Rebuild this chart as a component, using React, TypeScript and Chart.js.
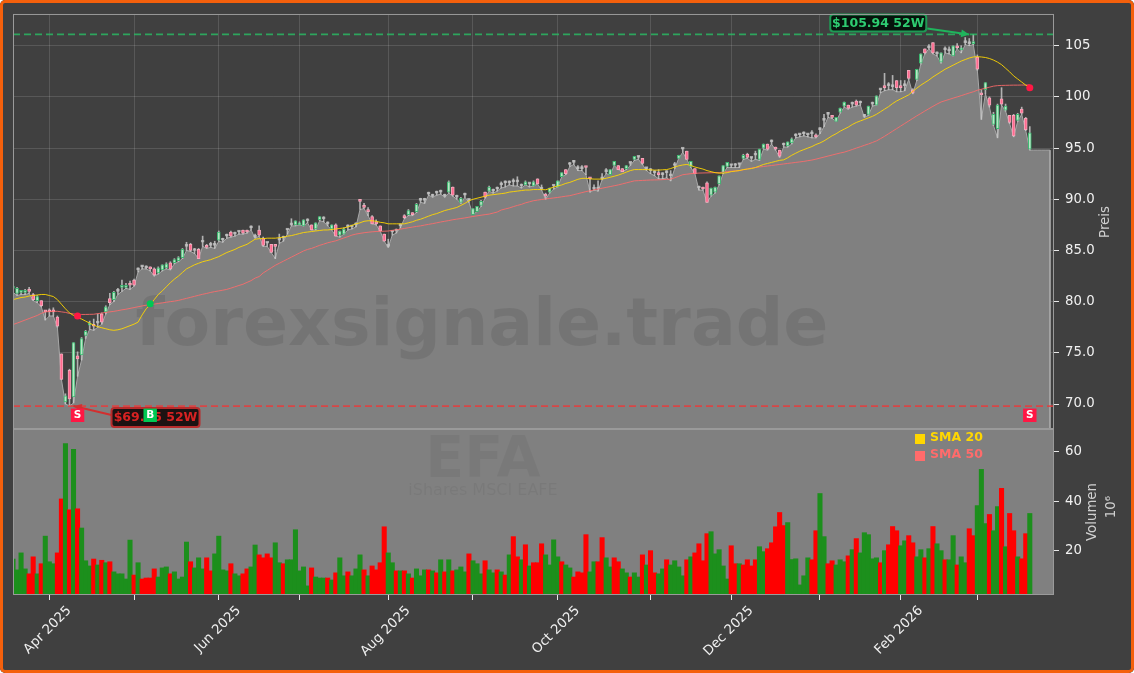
import React, { useEffect, useRef } from "react";
import { Chart, registerables } from "chart.js";

Chart.register(...registerables);

const opens = [
81.3,80.8,80.9,80.9,81.1,80.7,80.1,80.1,79.1,79.1,
79.1,78.5,74.9,70.2,73.3,70.7,74.7,74.8,76.7,77.7,
77.7,77.9,78.8,79.0,80.3,80.2,81.0,81.4,81.4,81.7,
82.1,83.1,83.4,83.3,83.3,83.2,82.8,83.1,83.3,83.8,
83.8,84.0,84.3,85.4,85.6,85.0,85.1,85.8,85.4,85.5,
85.5,86.0,86.0,86.4,86.8,86.6,86.8,87.0,86.9,87.2,
86.3,87.0,86.2,85.7,85.6,85.5,86.0,86.2,87.0,87.5,
87.5,87.5,87.4,87.9,87.5,87.1,88.0,88.1,87.6,87.1,
87.5,86.5,86.6,87.3,87.3,87.5,89.9,89.4,88.9,88.3,
87.8,87.4,86.6,85.4,86.8,86.9,87.4,88.4,88.5,88.6,
88.8,89.9,89.9,90.5,90.3,90.6,90.7,90.3,90.7,91.2,
90.2,89.7,90.4,89.9,88.5,88.8,89.4,90.7,90.8,90.8,
91.0,91.4,91.6,91.6,91.7,91.7,91.3,91.4,91.5,91.3,
92.0,91.0,90.4,90.7,91.3,91.2,92.2,92.9,93.4,93.6,
93.0,93.0,93.2,92.1,91.0,91.0,92.0,92.7,92.4,93.3,
93.3,93.0,93.0,93.5,93.9,94.1,94.0,93.0,92.8,92.6,
92.5,92.4,92.6,92.3,93.3,94.0,94.9,94.7,93.2,93.0,
91.1,91.1,91.6,90.4,90.7,91.5,92.6,93.2,93.3,93.3,
93.4,94.0,94.4,94.0,94.3,93.9,95.0,95.4,95.6,95.1,
94.8,95.3,95.2,95.5,96.2,96.3,96.4,96.3,96.4,96.3,
96.8,97.7,98.3,98.2,97.6,98.5,99.1,99.2,99.3,99.6,
99.4,98.1,98.3,99.3,99.2,100.7,101.0,101.1,101.0,101.6,
101.0,101.1,102.6,100.7,101.7,103.3,104.7,104.8,105.3,104.2,
103.4,104.6,104.5,104.0,105.0,104.6,105.3,105.2,105.2,103.9,
100.3,100.7,99.9,97.3,96.9,99.8,98.7,98.2,98.2,97.7,
98.8,97.9,94.9];

const closes = [
81.4,81.3,81.0,81.0,81.0,80.2,80.5,79.6,79.0,79.0,
79.0,77.6,72.4,70.8,70.5,76.0,74.4,76.4,77.1,77.8,
77.6,77.9,78.0,79.5,79.9,80.9,81.0,81.5,81.5,81.6,
81.6,83.1,83.4,83.3,83.2,82.6,83.3,83.6,83.7,83.2,
84.1,84.3,85.1,85.4,85.0,85.0,84.2,85.8,85.3,85.5,
85.5,86.8,86.0,86.4,86.4,86.6,86.8,86.7,86.8,87.2,
86.3,86.5,85.5,85.7,84.8,85.4,86.0,86.2,87.0,87.5,
87.9,87.7,88.0,87.9,87.0,87.7,88.3,88.1,87.6,87.5,
86.4,86.9,87.1,87.3,87.3,87.5,89.8,89.2,88.8,87.6,
87.6,86.9,85.9,85.4,86.8,86.9,87.4,88.2,88.9,88.5,
89.5,89.9,89.9,90.5,90.3,90.6,90.7,90.3,91.7,90.4,
90.2,90.1,90.4,89.9,89.1,89.3,89.8,90.2,91.2,90.8,
91.0,91.4,91.6,91.6,91.7,91.7,91.3,91.7,91.5,91.7,
91.5,91.0,90.3,91.1,91.3,91.8,92.6,92.5,93.4,93.6,
93.0,93.0,93.1,92.0,91.0,91.0,92.0,92.7,92.9,93.7,
92.9,92.7,93.3,93.5,94.2,94.1,93.5,93.0,92.8,92.6,
92.4,92.4,92.6,92.3,93.3,94.3,94.9,93.9,93.7,92.5,
91.1,91.0,89.7,91.1,91.2,92.3,93.3,93.6,93.3,93.3,
93.4,94.3,94.1,94.0,94.3,94.9,95.4,94.9,95.6,94.9,
94.2,95.3,95.6,95.9,96.2,96.3,96.4,96.3,96.4,96.1,
96.8,97.7,98.3,98.0,98.0,98.9,99.5,98.9,99.3,99.2,
99.4,98.1,99.1,99.3,100.1,100.7,100.9,101.1,101.0,100.9,
100.9,101.1,101.8,100.4,102.7,104.2,104.3,104.8,104.3,104.2,
104.3,104.6,104.5,105.0,104.8,104.7,105.3,105.2,105.3,102.7,
100.2,101.4,99.2,98.3,99.2,99.3,99.1,97.5,96.2,98.3,
98.4,96.8,96.5];

const highs = [
82.1,81.4,81.0,81.2,81.4,80.8,80.6,80.1,79.1,79.3,
79.4,78.6,74.9,71.0,73.4,76.0,75.1,76.5,77.2,78.1,
78.3,78.8,78.9,79.6,80.8,81.0,81.3,82.1,81.8,82.0,
82.2,83.3,83.5,83.5,83.4,83.3,83.4,83.6,83.8,83.9,
84.2,84.4,85.2,85.8,85.7,85.2,85.2,86.4,85.6,85.8,
85.9,86.9,86.2,86.6,86.9,86.8,86.9,87.0,87.0,87.4,
86.6,87.4,86.3,85.8,85.6,85.6,86.6,86.4,87.1,88.1,
87.9,87.8,88.0,88.1,87.5,87.7,88.3,88.3,87.8,87.5,
87.6,86.9,87.2,87.5,87.4,87.7,90.0,89.6,89.2,88.4,
88.0,87.4,86.6,86.1,86.9,87.1,87.6,88.5,89.0,88.7,
89.6,90.1,90.1,90.7,90.5,90.8,90.9,90.5,91.8,91.2,
90.4,90.2,90.6,90.0,89.1,89.3,89.9,90.7,91.3,91.0,
91.2,91.7,91.8,91.8,92.0,92.2,91.5,91.8,91.6,91.8,
92.0,91.4,90.6,91.1,91.4,91.8,92.6,92.9,93.6,93.8,
93.3,93.3,93.2,92.1,91.4,91.8,92.5,93.0,92.9,93.7,
93.3,93.0,93.3,93.6,94.2,94.2,94.0,93.1,93.0,92.8,
92.9,92.6,92.8,92.8,93.6,94.3,95.0,94.7,93.7,93.0,
91.3,91.2,91.7,91.1,91.2,92.3,93.3,93.6,93.4,93.5,
93.5,94.4,94.5,94.1,94.7,94.9,95.4,95.4,95.8,95.1,
94.8,95.5,95.6,96.0,96.4,96.4,96.6,96.4,96.7,96.4,
97.0,98.3,98.5,98.2,98.0,98.9,99.5,99.2,99.5,99.7,
99.6,98.3,99.1,99.5,100.1,100.8,102.3,101.4,102.1,101.6,
101.6,101.6,102.6,100.8,102.7,104.2,104.7,105.1,105.3,104.4,
104.3,104.9,104.9,105.0,105.2,105.0,105.8,105.7,106.1,104.1,
100.7,101.4,100.0,98.5,99.3,100.9,99.3,98.2,98.3,98.4,
99.0,98.0,97.1];

const lows = [
80.9,80.6,80.7,80.7,80.8,80.1,79.9,79.5,78.2,78.6,
78.6,77.5,72.4,70.0,69.8,70.1,72.7,74.3,76.4,77.3,
77.2,77.5,77.8,78.8,79.7,80.0,80.7,81.0,81.3,81.2,
81.5,82.9,83.2,83.2,83.0,82.5,82.7,83.0,83.2,83.1,
83.7,83.9,84.2,85.0,84.9,84.7,84.2,85.4,85.2,85.3,
85.2,85.9,85.8,86.2,86.3,86.4,86.6,86.6,86.7,87.0,
86.2,86.4,85.4,85.4,84.8,84.2,85.7,85.9,86.6,87.4,
87.4,87.5,87.4,87.7,87.0,87.0,87.9,87.8,87.4,87.0,
86.4,86.3,86.6,87.0,87.1,87.3,89.0,89.1,88.4,87.6,
87.5,86.9,85.9,85.3,86.5,86.7,87.2,88.1,88.4,88.4,
88.7,89.7,89.6,90.4,90.2,90.4,90.5,90.2,90.6,90.3,
90.0,89.6,90.2,89.7,88.5,88.8,89.3,90.1,90.8,90.6,
90.8,91.1,91.2,91.4,91.3,91.3,91.1,91.4,91.2,91.3,
91.5,90.9,90.0,90.6,91.0,91.2,92.2,92.4,93.2,93.4,
92.8,92.8,92.4,90.7,90.9,90.8,91.9,92.5,92.4,93.3,
92.9,92.7,92.9,93.3,93.8,93.9,93.4,92.8,92.5,92.3,
92.0,92.0,92.1,91.8,93.0,94.0,94.6,93.9,93.1,92.5,
90.9,90.9,89.7,90.3,90.6,91.4,92.5,93.1,93.1,93.1,
93.1,93.9,94.0,93.7,93.9,93.8,94.9,94.8,95.4,94.8,
94.1,95.1,95.1,95.4,96.0,96.1,96.2,96.1,96.0,96.0,
96.4,97.1,98.0,97.9,97.6,98.4,99.0,98.8,99.0,99.1,
99.2,98.0,98.2,99.1,99.2,100.4,100.6,100.7,100.7,100.5,
100.5,100.6,101.7,100.3,101.6,103.2,104.2,104.7,104.2,104.0,
103.3,104.3,104.2,104.0,104.7,104.3,105.1,105.0,105.1,102.6,
97.8,100.3,99.0,97.2,96.0,99.2,98.6,97.4,96.1,97.6,
98.3,96.7,94.8];

const flatTail = [94.8, 94.8, 94.8, 94.8, 94.8];

const sma20 = [
80.2,80.3,80.4,80.45,80.55,80.6,80.65,80.7,80.7,80.6,
80.5,80.2,79.75,79.3,78.9,78.65,78.45,78.3,78.1,77.9,
77.7,77.55,77.45,77.35,77.25,77.2,77.25,77.35,77.5,77.65,
77.8,78.0,78.7,79.3,79.7,80.2,80.7,81.05,81.45,81.85,
82.2,82.5,82.85,83.2,83.4,83.6,83.75,83.9,84.0,84.1,
84.25,84.4,84.6,84.8,84.95,85.1,85.3,85.45,85.6,85.85,
86.1,86.15,86.15,86.2,86.2,86.2,86.25,86.3,86.4,86.45,
86.55,86.65,86.75,86.8,86.85,86.9,86.95,87.0,87.0,87.05,
87.1,87.15,87.2,87.3,87.45,87.6,87.7,87.85,87.9,87.9,
87.85,87.75,87.7,87.6,87.6,87.6,87.6,87.6,87.7,87.8,
87.95,88.05,88.2,88.35,88.5,88.6,88.75,88.9,89.0,89.1,
89.2,89.4,89.6,89.85,90.0,90.1,90.2,90.3,90.4,90.45,
90.5,90.55,90.6,90.7,90.75,90.8,90.85,90.9,90.9,90.95,
90.95,90.95,90.93,91.05,91.2,91.3,91.4,91.55,91.65,91.8,
91.95,92.04,92.05,92.0,91.97,91.97,91.97,92.05,92.15,92.25,
92.36,92.5,92.65,92.8,92.9,92.9,92.9,92.9,92.88,92.85,
92.85,92.88,92.9,93.0,93.15,93.27,93.35,93.4,93.3,93.15,
93.05,92.95,92.8,92.7,92.6,92.55,92.55,92.6,92.7,92.75,
92.8,92.9,92.95,93.0,93.1,93.25,93.4,93.5,93.6,93.7,
93.8,93.85,94.05,94.3,94.5,94.7,94.85,95.0,95.15,95.35,
95.5,95.7,95.95,96.2,96.4,96.65,96.85,97.05,97.3,97.5,
97.65,97.8,97.95,98.1,98.3,98.55,98.8,99.05,99.35,99.6,
99.8,100.0,100.2,100.55,100.85,101.15,101.4,101.65,101.95,102.2,
102.45,102.7,102.9,103.1,103.3,103.5,103.65,103.8,103.9,103.93,
103.9,103.85,103.75,103.6,103.4,103.15,102.8,102.45,102.05,101.75,
101.45,101.15,100.95];

const sma50 = [
77.76,77.9,78.05,78.2,78.35,78.5,78.65,78.85,79.0,79.03,
79.05,79.06,79.0,78.95,78.85,78.8,78.75,78.75,78.75,78.76,
78.77,78.83,78.88,78.95,79.0,79.05,79.12,79.2,79.26,79.34,
79.42,79.5,79.58,79.65,79.7,79.76,79.82,79.88,79.94,80.0,
80.05,80.12,80.22,80.32,80.42,80.52,80.62,80.72,80.8,80.9,
80.98,81.05,81.12,81.2,81.32,81.45,81.58,81.7,81.88,82.05,
82.3,82.45,82.8,83.05,83.3,83.55,83.75,83.95,84.15,84.35,
84.55,84.75,84.95,85.1,85.2,85.35,85.5,85.62,85.75,85.85,
85.94,86.08,86.22,86.35,86.5,86.6,86.67,86.73,86.78,86.82,
86.85,86.87,86.88,86.9,86.96,87.02,87.08,87.15,87.22,87.28,
87.35,87.4,87.48,87.55,87.62,87.7,87.78,87.85,87.92,88.0,
88.06,88.12,88.18,88.25,88.32,88.38,88.44,88.5,88.55,88.65,
88.75,88.95,89.05,89.15,89.28,89.4,89.5,89.65,89.75,89.86,
89.92,89.98,90.03,90.08,90.13,90.18,90.24,90.3,90.35,90.45,
90.55,90.65,90.75,90.83,90.92,91.0,91.08,91.16,91.24,91.32,
91.4,91.5,91.6,91.7,91.8,91.82,91.84,91.86,91.88,91.89,
91.9,91.92,91.95,91.97,92.1,92.25,92.4,92.45,92.5,92.53,
92.56,92.57,92.58,92.59,92.6,92.6,92.65,92.7,92.74,92.77,
92.8,92.88,92.96,93.05,93.1,93.15,93.2,93.25,93.3,93.35,
93.4,93.45,93.5,93.55,93.6,93.65,93.7,93.77,93.83,93.92,
94.02,94.12,94.22,94.32,94.42,94.52,94.6,94.73,94.86,95.0,
95.13,95.27,95.4,95.55,95.7,95.92,96.15,96.4,96.65,96.9,
97.15,97.4,97.65,97.9,98.15,98.38,98.62,98.85,99.08,99.3,
99.5,99.63,99.75,99.88,100.0,100.12,100.25,100.38,100.5,100.65,
100.75,100.85,100.95,101.05,101.1,101.12,101.13,101.14,101.15,101.15,
101.16,101.16,101.16];

const volumes = [
16.5,12.1,19,12.5,10.5,17.4,10.5,14.6,25.8,15.4,
14.6,19,40.9,63.4,36.5,61,36.9,29.1,15.8,13.7,
16.5,14.1,16,15,15.4,11.3,10.5,10.5,8.4,24.2,
10,15,8.4,8.8,8.8,12.5,9.2,12.9,13.3,10.5,
11.3,8.4,9.2,23.4,15.4,12.9,17,12.5,17,11.7,
18.6,25.8,12.1,11.7,14.6,10.5,9.7,10.5,12.5,13.3,
22.2,18.2,17,18.6,17,23.1,15,14.6,16.2,16.2,
28.4,11.7,13.3,5.6,12.9,9.2,8.8,8.8,8.8,8,
10.9,17,9.7,11.3,9.7,12.5,18.2,12.1,9.7,13.7,
12.1,15,29.6,19,15,11.7,11.7,11.7,10.5,8.8,
12.5,9.7,12.1,12.1,11.7,10.9,16.2,11.3,16.2,11.7,
12.1,13.3,11.3,18.6,15.8,14.6,10.5,15.8,12.1,10.9,
12.1,11.3,10,18.2,25.6,17.4,16.2,22.3,13.7,15,
15,22.7,18.2,14.1,24.3,17.4,15.4,14.1,12.9,9.2,
11.3,10.9,26.4,11.3,15.4,15.4,25.2,17,13.3,17,
15.4,12.5,10.9,9.2,10.9,9.2,18.2,14.1,19.9,10.9,
10.5,12.5,16.2,14.1,15.8,13.3,9.7,16.2,17.4,19,
22.7,15.8,26.8,27.6,18.6,20.3,13.7,8.4,21.9,14.6,
14.6,14.1,16.2,13.7,16.2,21.5,19.5,20.7,23.1,29.6,
35.4,30.1,31.3,16.3,16.6,6,9.7,17,16.2,28,
43.1,25.6,14.6,15.8,14.1,16.2,15.4,17.8,20.3,24.8,
19,27.2,26.4,16.6,17,15,19.9,22.3,29.7,28,
21.9,23.9,26,23.1,17.4,20.3,17,20.7,29.7,22.7,
19.9,16.2,16.2,26,14.1,17.4,15,28.8,26,38.2,
52.9,30.9,34.6,28,37.8,45.2,21.5,35,28,17.4,
16.6,26.8,35];

const volumeSides =
  "ggggrrgrgg" + "grrgrgrggg" + "rgrgrggggg" + "rgrrrrgggr" + "ggggrgggrr" +
  "ggggrggrrg" + "grrrrggrgg" + "ggggrgggrg" + "rggrgggrgr" + "rrrggrgrgr" +
  "gggrgrgrgr" + "gggrgggrgg" + "rgrgrrgrgr" + "rrggggrggr" + "rrrggrrggr" +
  "rggrggrgrr" + "ggrggggrgr" + "rrrgggggrr" + "grrrrggrrr" + "rrggggggrr" +
  "ggrrgggrgr" + "gggggrgrrr" + "ggrrggrgrg" + "grggrggrrg" + "ggrggrgrrg" +
  "rrg";

const tickIndexes = [9, 30, 51, 71, 93, 114, 135, 158, 178, 200, 220, 239];
const tickTexts = ["Apr 2025", "", "Jun 2025", "", "Aug 2025", "", "Oct 2025", "", "Dec 2025", "", "Feb 2026", ""];
const priceTicks = [70, 75, 80, 85, 90, 95, 100, 105];
const volumeTicks = [20, 40, 60];
const slotCount = 259;
const slots = Array.from({ length: slotCount }, (_, i) => String(i));

const yearHigh = 106.1;
const yearLow = 69.8;
const edgeSlot = "257";
const sellDots = [{ x: "16", y: 78.6 }, { x: "252", y: 100.9 }];
const buyDots = [{ x: "34", y: 79.8 }];
const sellFlags = [{ x: "16", y: 68.9 }, { x: "252", y: 68.9 }];
const buyFlags = [{ x: "34", y: 68.9 }];

const FONT = '"DejaVu Sans"';
const PRICE_MIN = 67.56;
const PRICE_MAX = 108.1;
const VOL_MIN = 1.9;
const VOL_MAX = 69.3;

function arrow(ctx: CanvasRenderingContext2D, x1: number, y1: number, x2: number, y2: number, color: string) {
  ctx.save();
  ctx.strokeStyle = color;
  ctx.fillStyle = color;
  ctx.lineWidth = 2;
  ctx.beginPath();
  ctx.moveTo(x1, y1);
  ctx.lineTo(x2, y2);
  ctx.stroke();
  const a = Math.atan2(y2 - y1, x2 - x1);
  ctx.beginPath();
  ctx.moveTo(x2, y2);
  ctx.lineTo(x2 - 9 * Math.cos(a - 0.45), y2 - 9 * Math.sin(a - 0.45));
  ctx.lineTo(x2 - 9 * Math.cos(a + 0.45), y2 - 9 * Math.sin(a + 0.45));
  ctx.closePath();
  ctx.fill();
  ctx.restore();
}

function labelBox(ctx: CanvasRenderingContext2D, x: number, y: number, w: number, h: number, text: string, fill: string, stroke: string, color: string) {
  ctx.save();
  ctx.fillStyle = fill;
  ctx.strokeStyle = stroke;
  ctx.lineWidth = 2;
  ctx.beginPath();
  ctx.roundRect(x, y, w, h, 3);
  ctx.fill();
  ctx.stroke();
  ctx.fillStyle = color;
  ctx.font = `bold 12.5px ${FONT}`;
  ctx.textAlign = "center";
  ctx.textBaseline = "middle";
  ctx.fillText(text, x + w / 2, y + h / 2 + 0.5);
  ctx.restore();
}

function vText(ctx: CanvasRenderingContext2D, text: string, x: number, y: number, color: string, size: number) {
  ctx.save();
  ctx.translate(x, y);
  ctx.rotate(-Math.PI / 2);
  ctx.fillStyle = color;
  ctx.font = `${size}px ${FONT}`;
  ctx.textAlign = "center";
  ctx.textBaseline = "middle";
  ctx.fillText(text, 0, 0);
  ctx.restore();
}

const chartDressing = {
  id: "chartDressing",
  beforeDraw(chart: any) {
    const { ctx, width, height } = chart;
    ctx.save();
    ctx.fillStyle = "#404040";
    ctx.fillRect(0, 0, width, height);
    ctx.restore();
  },
  beforeDatasetsDraw(chart: any) {
    const { ctx, chartArea } = chart;
    const v = chart.scales.volume;
    ctx.save();
    ctx.fillStyle = "#808080";
    ctx.fillRect(chartArea.left, v.top, chartArea.right - chartArea.left, v.bottom - v.top);
    ctx.textAlign = "center";
    ctx.textBaseline = "middle";
    ctx.fillStyle = "rgba(0,0,0,0.05)";
    ctx.font = `bold 57px ${FONT}`;
    ctx.fillText("EFA", 483, 462);
    ctx.font = `16px ${FONT}`;
    ctx.fillText("iShares MSCI EAFE", 483, 491);
    ctx.restore();
  },
  afterDatasetDraw(chart: any, args: any) {
    const { ctx } = chart;
    const label = chart.data.datasets[args.index].label;
    const x = chart.scales.x;
    const y = chart.scales.price;
    if (label === "Area") {
      ctx.save();
      ctx.textAlign = "center";
      ctx.textBaseline = "middle";
      ctx.fillStyle = "rgba(0,0,0,0.09)";
      ctx.font = `bold 66.5px ${FONT}`;
      ctx.fillText("forexsignale.trade", 482, 328);
      ctx.restore();
    }
    if (label === "52W Low") {
      const ax = x.getPixelForValue(15);
      const ay = y.getPixelForValue(yearLow);
      const bx = ax + 38;
      const by = ay + 2;
      arrow(ctx, bx, ay + 9, ax, ay, "#d32f2f");
      labelBox(ctx, bx, by, 88, 19, "$69.75 52W", "#1c1212", "#b72c2c", "#d82222");
      const hx = x.getPixelForValue(237);
      const hy = y.getPixelForValue(yearHigh);
      const gx = hx - 139;
      arrow(ctx, gx + 97, hy - 6, hx, hy, "#1fb45c");
      labelBox(ctx, gx, hy - 20, 96, 17, "$105.94 52W", "#06140c", "#1f9a55", "#2ecc71");
    }
  },
  afterDatasetsDraw(chart: any) {
    const { ctx, chartArea } = chart;
    const p = chart.scales.price;
    const v = chart.scales.volume;
    ctx.save();
    ctx.strokeStyle = "#9a9a9a";
    ctx.lineWidth = 1;
    ctx.strokeRect(chartArea.left + 0.5, p.top + 0.5, chartArea.right - chartArea.left - 1, v.bottom - p.top - 1);
    ctx.lineWidth = 2;
    ctx.beginPath();
    ctx.moveTo(chartArea.left, v.top);
    ctx.lineTo(chartArea.right, v.top);
    ctx.stroke();

    ctx.textBaseline = "middle";
    ctx.textAlign = "center";
    ctx.font = `bold 10.5px ${FONT}`;
    ctx.fillStyle = "#ffffff";
    const xs = chart.scales.x;
    for (const f of sellFlags) ctx.fillText("S", xs.getPixelForValue(Number(f.x)), p.getPixelForValue(f.y));
    for (const f of buyFlags) ctx.fillText("B", xs.getPixelForValue(Number(f.x)), p.getPixelForValue(f.y));

    ctx.textAlign = "left";
    ctx.font = `bold 12.5px ${FONT}`;
    ctx.fillStyle = "#ffd700";
    ctx.fillRect(915, 434, 10, 10);
    ctx.fillText("SMA 20", 930, 438);
    ctx.fillStyle = "#ff6b6b";
    ctx.fillRect(915, 451, 10, 10);
    ctx.fillText("SMA 50", 930, 455);
    ctx.restore();

    vText(ctx, "Preis", 1106, 222, "#d0d0d0", 13.3);
    vText(ctx, "Volumen", 1093, 512, "#d0d0d0", 13.3);
    vText(ctx, "10\u2076", 1112, 507, "#d0d0d0", 13.3);
  },
};

export default function App() {
  const ref = useRef<HTMLCanvasElement | null>(null);

  useEffect(() => {
    if (!ref.current) return;
    Chart.defaults.font.family = FONT;
    const isUp = (i: number) => closes[i] > opens[i];
    const isDown = (i: number) => closes[i] < opens[i];
    const chart = new Chart(ref.current, {
      type: "bar",
      plugins: [chartDressing],
      data: {
        labels: slots,
        datasets: [
          {
            type: "bar",
            label: "Volumen",
            yAxisID: "volume",
            data: volumes,
            base: VOL_MIN,
            grouped: false,
            barThickness: 4.4,
            backgroundColor: volumes.map((_, i) => (volumeSides[i] === "g" ? "#1c8f1c" : "#ff0000")),
            borderWidth: 0,
            order: 20,
          },
          {
            type: "line",
            label: "Area",
            yAxisID: "price",
            data: lows.concat(flatTail),
            fill: "start",
            backgroundColor: "#808080",
            borderColor: "#a8a8a8",
            borderWidth: 1,
            pointRadius: 0,
            tension: 0,
            order: 12,
          },
          {
            type: "line",
            label: "Edge",
            yAxisID: "price",
            data: [
              { x: edgeSlot, y: flatTail[0] },
              { x: edgeSlot, y: PRICE_MIN },
            ],
            borderColor: "#a8a8a8",
            borderWidth: 1,
            pointRadius: 0,
            order: 11,
          },
          {
            type: "bar",
            label: "Wick",
            yAxisID: "price",
            data: lows.map((l, i) => [l, highs[i]]),
            grouped: false,
            barThickness: 1,
            backgroundColor: "rgba(205,205,205,0.8)",
            borderWidth: 0,
            order: 10,
          },
          {
            type: "bar",
            label: "Body",
            yAxisID: "price",
            data: opens.map((o, i) => [o, closes[i]]),
            grouped: false,
            barThickness: 3,
            minBarLength: 2,
            borderSkipped: false,
            borderWidth: 1,
            backgroundColor: opens.map((_, i) => (isUp(i) ? "#b9e6c6" : isDown(i) ? "#ff6a8f" : "rgba(195,195,195,0.8)")),
            borderColor: opens.map((_, i) => (isUp(i) ? "#3cb870" : isDown(i) ? "#f4a8bb" : "rgba(195,195,195,0.8)")),
            order: 9,
          },
          {
            type: "line",
            label: "SMA 50",
            yAxisID: "price",
            data: sma50,
            borderColor: "rgba(255,107,107,0.85)",
            borderWidth: 1,
            pointRadius: 0,
            order: 8,
          },
          {
            type: "line",
            label: "SMA 20",
            yAxisID: "price",
            data: sma20,
            borderColor: "rgba(255,215,0,0.9)",
            borderWidth: 1,
            pointRadius: 0,
            order: 7,
          },
          {
            type: "line",
            label: "52W High",
            yAxisID: "price",
            data: [
              { x: slots[0], y: yearHigh },
              { x: slots[slotCount - 1], y: yearHigh },
            ],
            borderColor: "rgba(40,190,100,0.8)",
            borderWidth: 1.7,
            borderDash: [7, 4],
            pointRadius: 0,
            order: 6,
          },
          {
            type: "line",
            label: "52W Low",
            yAxisID: "price",
            data: [
              { x: slots[0], y: yearLow },
              { x: slots[slotCount - 1], y: yearLow },
            ],
            borderColor: "rgba(230,60,60,0.85)",
            borderWidth: 1.7,
            borderDash: [7, 4],
            pointRadius: 0,
            order: 5,
          },
          {
            type: "line",
            label: "Sell dots",
            yAxisID: "price",
            data: sellDots,
            showLine: false,
            pointRadius: 3.5,
            pointBackgroundColor: "#ff1744",
            pointBorderWidth: 0,
            order: 4,
          },
          {
            type: "line",
            label: "Buy dots",
            yAxisID: "price",
            data: buyDots,
            showLine: false,
            pointRadius: 3.5,
            pointBackgroundColor: "#00c853",
            pointBorderWidth: 0,
            order: 3,
          },
          {
            type: "line",
            label: "Sell flags",
            yAxisID: "price",
            data: sellFlags,
            showLine: false,
            pointStyle: "rect",
            pointRadius: 9.5,
            pointBackgroundColor: "#ff1744",
            pointBorderWidth: 0,
            clip: false,
            order: 2,
          },
          {
            type: "line",
            label: "Buy flags",
            yAxisID: "price",
            data: buyFlags,
            showLine: false,
            pointStyle: "rect",
            pointRadius: 9.5,
            pointBackgroundColor: "#00c853",
            pointBorderWidth: 0,
            clip: false,
            order: 1,
          },
        ] as any,
      },
      options: {
        animation: false,
        responsive: false,
        layout: { padding: { top: 13, left: 13, right: 0, bottom: 0 } },
        plugins: { legend: { display: false }, tooltip: { enabled: false } },
        scales: {
          x: {
            type: "category",
            offset: false,
            afterBuildTicks: (axis: any) => {
              axis.ticks = tickIndexes.map((value) => ({ value }));
            },
            afterFit: (axis: any) => {
              axis.height = 78;
            },
            grid: { color: "rgba(255,255,255,0.13)", offset: false, tickColor: "#e8e8e8", tickLength: 5 },
            border: { display: false },
            ticks: {
              autoSkip: false,
              maxRotation: 45,
              minRotation: 45,
              labelOffset: 20,
              padding: 3,
              color: "#f0f0f0",
              font: { size: 13.3 },
              callback: (value: any) => tickTexts[tickIndexes.indexOf(Number(value))] ?? "",
            },
          },
          price: {
            type: "linear",
            position: "right",
            stack: "panels",
            stackWeight: 415,
            min: PRICE_MIN,
            max: PRICE_MAX,
            afterBuildTicks: (axis: any) => {
              axis.ticks = priceTicks.map((value) => ({ value }));
            },
            afterFit: (axis: any) => {
              axis.width = 80;
            },
            grid: { color: "rgba(255,255,255,0.13)", tickColor: "#e8e8e8", tickLength: 5 },
            border: { display: false },
            ticks: {
              color: "#f0f0f0",
              padding: 6,
              font: { size: 13.3 },
              callback: (v: any) => (Number(v) >= 100 ? String(v) : Number(v).toFixed(1)),
            },
          },
          volume: {
            type: "linear",
            position: "right",
            stack: "panels",
            stackWeight: 166,
            min: VOL_MIN,
            max: VOL_MAX,
            afterBuildTicks: (axis: any) => {
              axis.ticks = volumeTicks.map((value) => ({ value }));
            },
            afterFit: (axis: any) => {
              axis.width = 80;
            },
            grid: { drawOnChartArea: false, tickColor: "#e8e8e8", tickLength: 5 },
            border: { display: false },
            ticks: { color: "#f0f0f0", padding: 6, font: { size: 13.3 } },
          },
        },
      } as any,
    });
    return () => chart.destroy();
  }, []);

  return (
    <div style={{ position: "absolute", left: 0, top: 0, width: 1134, height: 673, background: "#fff" }}>
      <div style={{ position: "absolute", inset: 0, borderRadius: 5, overflow: "hidden" }}>
        <canvas ref={ref} width={1134} height={673} style={{ display: "block", width: 1134, height: 673 }} />
        <div style={{ position: "absolute", inset: 0, border: "3px solid #f4600c", borderRadius: 5, boxSizing: "border-box", pointerEvents: "none" }} />
      </div>
    </div>
  );
}
